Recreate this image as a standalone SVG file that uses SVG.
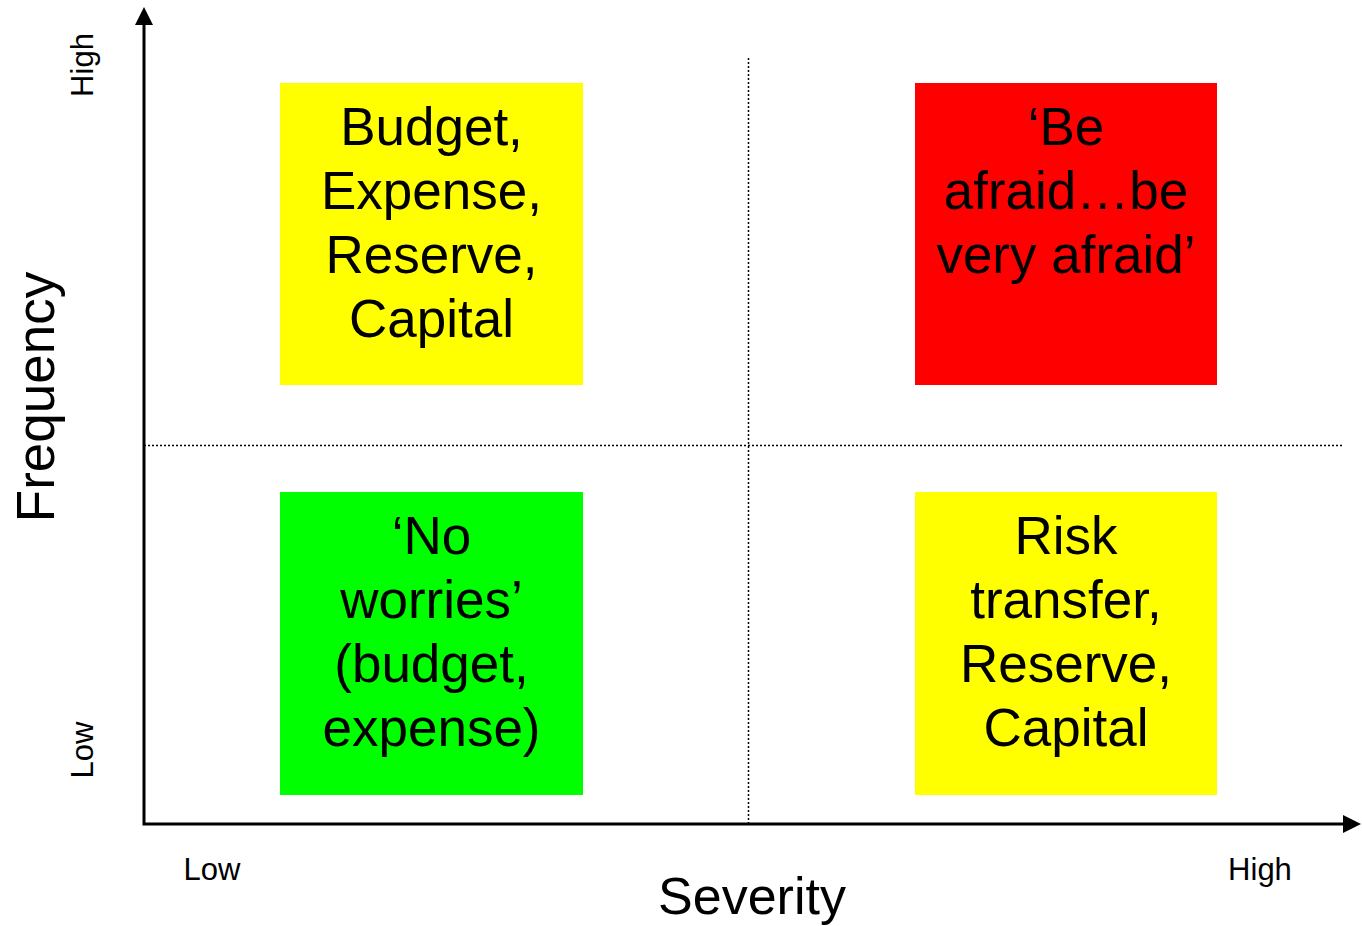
<svg xmlns="http://www.w3.org/2000/svg" width="1362" height="926" viewBox="0 0 1362 926">
<defs>
<style>
.big{font-family:"Liberation Sans",Arial,sans-serif;font-size:53px;fill:#000;text-anchor:middle}
.small{font-family:"Liberation Sans",Arial,sans-serif;font-size:31px;fill:#000;text-anchor:middle}
.axis{stroke:#000;stroke-width:3;fill:none}
.dot{stroke:#000;stroke-width:1.5;stroke-dasharray:2 2;fill:none}
</style>
</defs>
<rect width="1362" height="926" fill="#fff"/>
<g id="connectors">
<line class="dot" x1="748.5" y1="58" x2="748.5" y2="824"/>
<line class="dot" x1="144" y1="445.5" x2="1342" y2="445.5"/>
<polyline class="axis" points="144,24 144,824 1344,824"/>
<path d="M144,7 L135,25 L153,25 Z" fill="#000"/>
<path d="M1361,824 L1343,815 L1343,833 Z" fill="#000"/>
</g>
<g id="q-top-left">
<rect x="280" y="83" width="303" height="302" fill="#FFFF00"/>
<text class="big" x="431.5" y="145">Budget,</text>
<text class="big" x="431.5" y="209">Expense,</text>
<text class="big" x="431.5" y="273">Reserve,</text>
<text class="big" x="431.5" y="337">Capital</text>
</g>
<g id="q-top-right">
<rect x="915" y="83" width="302" height="302" fill="#FF0000"/>
<text class="big" x="1066" y="145">‘Be</text>
<text class="big" x="1066" y="209">afraid…be</text>
<text class="big" x="1066" y="273">very afraid’</text>
</g>
<g id="q-bottom-left">
<rect x="280" y="492" width="303" height="303" fill="#00FF00"/>
<text class="big" x="431.5" y="554">‘No</text>
<text class="big" x="431.5" y="618">worries’</text>
<text class="big" x="431.5" y="682">(budget,</text>
<text class="big" x="431.5" y="746">expense)</text>
</g>
<g id="q-bottom-right">
<rect x="915" y="492" width="302" height="303" fill="#FFFF00"/>
<text class="big" x="1066" y="554">Risk</text>
<text class="big" x="1066" y="618">transfer,</text>
<text class="big" x="1066" y="682">Reserve,</text>
<text class="big" x="1066" y="746">Capital</text>
</g>
<g id="labels">
<text class="big" x="752" y="914" style="font-size:52px">Severity</text>
<text class="big" transform="translate(54,397) rotate(-90)">Frequency</text>
<text class="small" x="212" y="880">Low</text>
<text class="small" x="1260" y="880">High</text>
<text class="small" transform="translate(93,65) rotate(-90)">High</text>
<text class="small" transform="translate(93,750) rotate(-90)">Low</text>
</g>
</svg>
